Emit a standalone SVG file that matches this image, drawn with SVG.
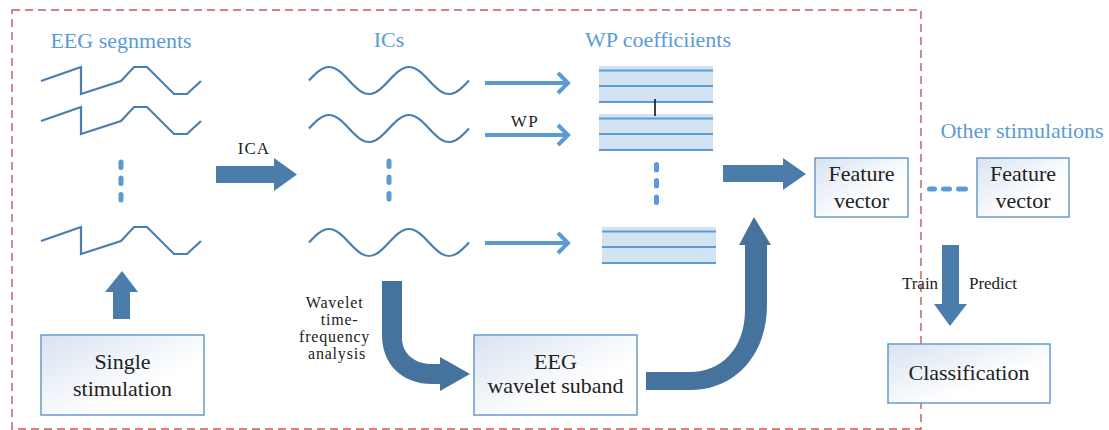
<svg xmlns="http://www.w3.org/2000/svg" width="1109" height="430" viewBox="0 0 1109 430">
<defs>
<linearGradient id="boxg" x1="0" y1="0" x2="1" y2="1">
<stop offset="0" stop-color="#d8e3f1"/>
<stop offset="0.65" stop-color="#ffffff"/>
</linearGradient>
<path id="eegw" d="M41,0 L81,-14 L81,13 L121,0 L134,-14 L147,-14 L174,13 L187,13 L201,0"/>
<path id="sinw" d="m0,0 c6.53,-6.92 12.77,-13.5 20,-13.5 s13.47,6.58 20,13.5 s12.77,13.5 20,13.5 s13.47,-6.58 20,-13.5 s12.77,-13.5 20,-13.5 s13.47,6.58 20,13.5 s12.77,13.5 20,13.5 s13.47,-6.58 20,-13.5"/>
<g id="vdots"><rect x="-2.5" y="0" width="5" height="10.5" rx="2.5"/><rect x="-2.5" y="16" width="5" height="10.5" rx="2.5"/><rect x="-2.5" y="32.5" width="5" height="10.5" rx="2.5"/></g>
<g id="wpbox"><rect x="0" y="0" width="114" height="37" fill="#d2e3f2"/><path d="M0,4.5 H114 M0,20 H114 M0,36 H114" stroke="#5b9bd5" stroke-width="2" fill="none"/></g>
</defs>
<style>
text{font-family:"Liberation Serif","Times New Roman","DejaVu Serif",serif}
.frame{fill:none;stroke:#c9585a;stroke-width:1.4;stroke-dasharray:8 5}
.title{font-size:22px;fill:#5b9bd5;text-anchor:middle}
.lbl{font-size:17px;fill:#222;text-anchor:middle}
.sm{font-size:16px;fill:#222;text-anchor:middle}
.box{fill:url(#boxg);stroke:#6a9bcb;stroke-width:1.5}
.btxt{font-size:22px;fill:#222;text-anchor:middle}
.wave{fill:none;stroke:#4a7db0;stroke-width:2.2}
.thin{fill:none;stroke:#5b9bd5;stroke-width:4}
.big{fill:#4b7dab}
.curv{fill:#46739e}
.dots{fill:#5b9bd5}
</style>
<rect class="frame" x="12" y="10" width="909" height="419"/>
<g id="eeg-segments">
<text class="title" x="121" y="48" font-family="Liberation Serif, serif">EEG segnments</text>
<use href="#eegw" class="wave" transform="translate(0,81)"/>
<use href="#eegw" class="wave" transform="translate(0,121)"/>
<use href="#eegw" class="wave" transform="translate(0,241)"/>
<use href="#vdots" class="dots" transform="translate(121,159.5)"/>
</g>
<g id="ics">
<text class="title" x="389" y="47" font-family="Liberation Serif, serif">ICs</text>
<use href="#sinw" class="wave" transform="translate(309,80.5)"/>
<use href="#sinw" class="wave" transform="translate(309,128.5)"/>
<use href="#sinw" class="wave" transform="translate(309,242.5)"/>
<use href="#vdots" class="dots" transform="translate(389,158.5)"/>
</g>
<g id="wp-coefficients">
<text class="title" x="658" y="47" font-family="Liberation Serif, serif">WP coefficiients</text>
<use href="#wpbox" transform="translate(599,66)"/>
<use href="#wpbox" transform="translate(599,114)"/>
<use href="#wpbox" transform="translate(602,227)"/>
<line x1="655" y1="99" x2="655" y2="116" stroke="#111" stroke-width="1.6"/>
<use href="#vdots" class="dots" transform="translate(656.5,162)"/>
</g>
<g id="single-stimulation">
<rect class="box" x="41" y="335" width="163" height="80"/>
<text class="btxt" x="122.5" y="369" font-family="Liberation Serif, serif">Single</text>
<text class="btxt" x="122.5" y="396" font-family="Liberation Serif, serif">stimulation</text>
</g>
<g id="eeg-wavelet-suband">
<rect class="box" x="474" y="335" width="163" height="80"/>
<text class="btxt" x="555.5" y="369" font-family="Liberation Serif, serif">EEG</text>
<text class="btxt" x="555.5" y="393" font-family="Liberation Serif, serif">wavelet suband</text>
</g>
<g id="feature-vector-1">
<rect class="box" x="815" y="158" width="93" height="59"/>
<text class="btxt" x="861.5" y="181" font-family="Liberation Serif, serif">Feature</text>
<text class="btxt" x="861.5" y="208" font-family="Liberation Serif, serif">vector</text>
</g>
<g id="other-stimulations">
<text class="title" x="1022" y="138" font-family="Liberation Serif, serif">Other stimulations</text>
</g>
<g id="feature-vector-2">
<rect class="box" x="977" y="158" width="92" height="59"/>
<text class="btxt" x="1023" y="181" font-family="Liberation Serif, serif">Feature</text>
<text class="btxt" x="1023" y="208" font-family="Liberation Serif, serif">vector</text>
</g>
<g id="classification">
<rect class="box" x="888" y="344" width="162" height="59"/>
<text class="btxt" x="969" y="380" font-family="Liberation Serif, serif">Classification</text>
</g>
<g id="connectors">
<polygon class="big" points="216,166 274,166 274,158 297,174.5 274,191 274,183 216,183"/>
<text class="lbl" x="254" y="154" letter-spacing="1" font-family="Liberation Serif, serif">ICA</text>
<polygon class="big" points="113,319 113,292 105,292 122,271 138,292 130,292 130,319"/>
<path class="thin" d="M485,83 H567 M558,73 L568,83 L558,93"/>
<path class="thin" d="M485,135 H567 M558,125 L568,135 L558,145"/>
<path class="thin" d="M485,243 H567 M558,233 L568,243 L558,253"/>
<text class="lbl" x="525" y="127" letter-spacing="1.5" font-family="Liberation Serif, serif">WP</text>
<polygon class="big" points="723,165 783,165 783,158 806,174 783,190 783,182 723,182"/>
<path class="curv" d="M382,281 H402 V338 C402,354 415,364 432,364 H440 V357 L470,374 L440,391 V384 H432 C403,384 382,365 382,335 Z"/>
<text class="sm" font-family="Liberation Serif, serif" letter-spacing="0.8">
<tspan x="337" y="308">Wavelet</tspan>
<tspan x="342" y="325">time-</tspan>
<tspan x="337" y="342">frequency</tspan>
<tspan x="337" y="359">analysis</tspan>
</text>
<path class="curv" d="M646,372 H690 C720,372 745,350 745,310 V245 H739 L754,217 L771,245 H767 V305 C767,355 735,390 690,390 H646 Z"/>
<rect class="dots" x="927" y="186.5" width="10" height="5" rx="2.5"/>
<rect class="dots" x="941" y="186.5" width="11" height="5" rx="2.5"/>
<rect class="dots" x="956" y="186.5" width="12" height="5" rx="2.5"/>
<polygon class="big" points="942,245 959,245 959,304 967,304 950,326 934,304 942,304"/>
<text class="lbl" x="920" y="289" font-family="Liberation Serif, serif">Train</text>
<text class="lbl" x="993" y="289" font-family="Liberation Serif, serif">Predict</text>
</g>
</svg>
